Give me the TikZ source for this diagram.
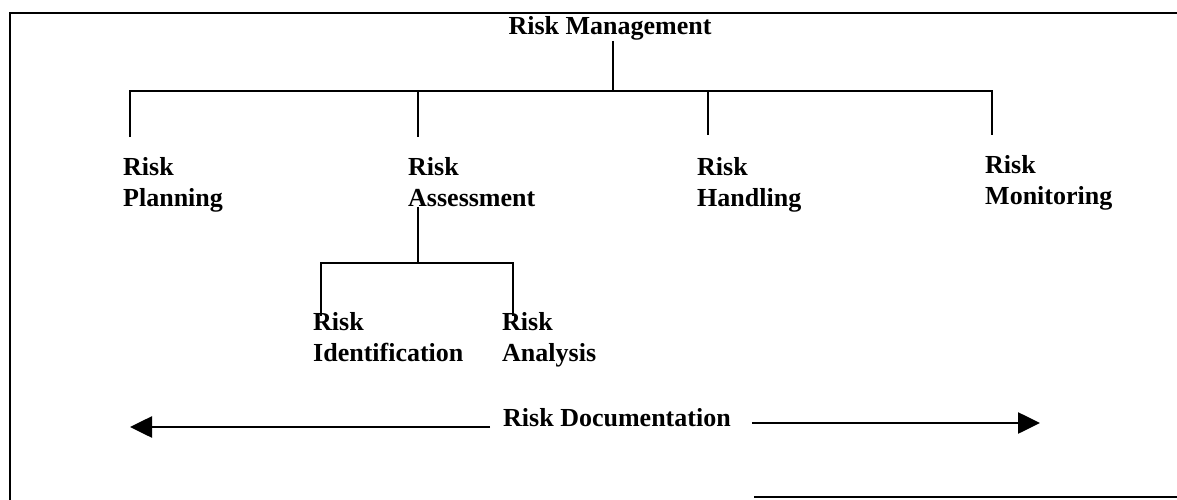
\documentclass[tikz,border=0pt]{standalone}
\usepackage{fontspec}
\setmainfont{Liberation Serif}
\usetikzlibrary{arrows.meta}
\begin{document}
\begin{tikzpicture}[x=1pt,y=-1pt,
  lblfont/.style={font=\bfseries\fontsize{26}{31}\selectfont},
  lbl/.style={lblfont,anchor=north west,inner sep=0pt,align=left},
  tree/.style={line width=2.4pt},
  frame/.style={line width=2.4pt},
  arr/.style={line width=2.6pt,-{Triangle[length=22pt,width=21pt]}}]
\useasboundingbox (0,0) rectangle (1177,500);
% frame
\draw[frame] (1177,13) -- (10,13) -- (10,500);
\draw[frame] (754,497) -- (1177,497);
% nodes
\node[lblfont,anchor=base,inner sep=0pt] (rm) at (610,35) {Risk Management};
\node[lbl] (rp) at (123,157) {Risk\\Planning};
\node[lbl] (ra) at (408,157) {Risk\\Assessment};
\node[lbl] (rh) at (697,157) {Risk\\Handling};
\node[lbl] (rmo) at (985,155) {Risk\\Monitoring};
\node[lbl] (ri) at (313,312) {Risk\\Identification};
\node[lbl] (ran) at (502,312) {Risk\\Analysis};
\node[lblfont,anchor=base west,inner sep=0pt] (rd) at (503,426) {Risk Documentation};
\coordinate (bar) at (0,91);
\coordinate (sub) at (0,263);
\coordinate (dl) at (130,427);
\coordinate (dr) at (1040,423);
% tree
\draw[tree] ([xshift=3]rm.south) -- ([xshift=3]rm.south |- bar);
\draw[tree] ([shift={(7,-20)}]rp.north west) -- ([xshift=7]rp.north west |- bar)
  -- ([xshift=7]rmo.north west |- bar) -- ([shift={(7,-20)}]rmo.north west);
\draw[tree] ([xshift=10]ra.north west |- bar) -- ([shift={(10,-20)}]ra.north west);
\draw[tree] ([xshift=11]rh.north west |- bar) -- ([shift={(11,-22)}]rh.north west);
\draw[tree] ([xshift=10]ra.south west) -- ([xshift=10]ra.south west |- sub);
\draw[tree] ([shift={(8,4)}]ri.north west) -- ([xshift=8]ri.north west |- sub)
  -- ([xshift=11]ran.north west |- sub) -- ([shift={(11,4)}]ran.north west);
% documentation arrows
\draw[arr] ([shift={(-13,1)}]rd.base west) -- (dl);
\draw[arr] ([shift={(21,-3)}]rd.base east) -- (dr);
\end{tikzpicture}
\end{document}
